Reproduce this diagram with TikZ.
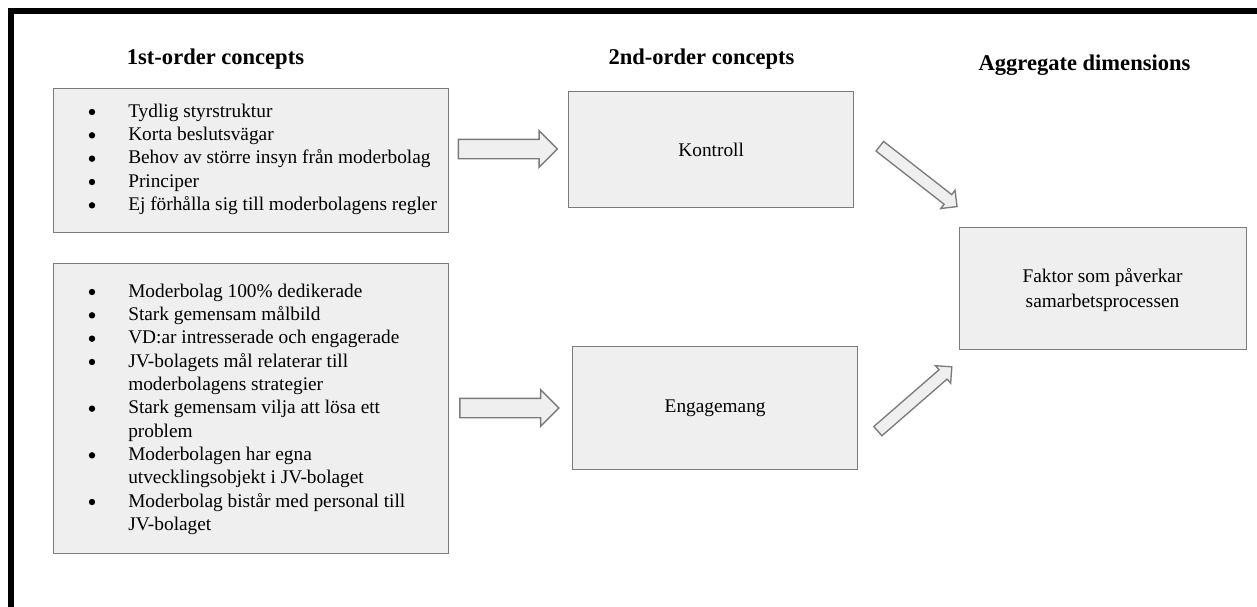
\documentclass[tikz,border=0pt]{standalone}
\usepackage{fontspec}
\setmainfont{Liberation Serif}
\usetikzlibrary{shapes.arrows}
\definecolor{boxfill}{HTML}{EFEFEF}
\definecolor{boxdraw}{HTML}{7B7B7B}
\newcommand\litem[3]{\node[itm] (#1) at (128,#2) {#3};}
\newcommand\lbul[2]{\node[bul] (#1) at (92,#2-5) {};}
\begin{document}
\begin{tikzpicture}[x=0.75pt,y=-0.75pt,
  box/.style={draw=boxdraw, fill=boxfill, line width=1pt, inner sep=0, anchor=north west,
              font=\fontsize{14.5}{17.5}\selectfont, align=center},
  itm/.style={anchor=base west, inner sep=0, font=\fontsize{14.5}{17.5}\selectfont},
  bul/.style={circle, fill=black, inner sep=0, minimum size=4.8pt},
  title/.style={anchor=base, inner sep=0, font=\fontsize{16.9}{20}\selectfont\bfseries},
  harrow/.style={single arrow, draw=boxdraw, fill=boxfill, line width=1pt, inner sep=0,
                 inner ysep=6.75pt, single arrow head extend=6.4pt, minimum height=74.25pt,
                 single arrow tip angle=90},
  darrow/.style={single arrow, draw=boxdraw, fill=boxfill, line width=1pt, inner sep=0,
                 inner ysep=4.1pt, single arrow head extend=4.1pt, minimum height=73.5pt,
                 single arrow tip angle=90}]
\useasboundingbox (0,0) rectangle (1257,607);
\fill[white] (0,0) rectangle (1257,607);
% frame lines (top and left)
\fill[black] (8,8) rectangle (1257,14);
\fill[black] (8,8) rectangle (14,607);

% titles
\node[title] (t1) at (215.5,64) {1st-order concepts};
\node[title] (t2) at (701.5,64) {2nd-order concepts};
\node[title] (t3) at (1084.5,70) {Aggregate dimensions};

% first-order boxes
\node[box, minimum width=296.25pt, minimum height=108pt] (f1) at (53,88) {};
\node[box, minimum width=296.25pt, minimum height=217.5pt] (f2) at (53,263) {};

\lbul{a1b}{117}      \litem{a1}{117}{Tydlig styrstruktur}
\lbul{a2b}{140.33}   \litem{a2}{140.33}{Korta beslutsvägar}
\lbul{a3b}{163.67}   \litem{a3}{163.67}{Behov av större insyn från moderbolag}
\lbul{a4b}{187}      \litem{a4}{187}{Principer}
\lbul{a5b}{210.33}   \litem{a5}{210.33}{Ej förhålla sig till moderbolagens regler}

\lbul{b1b}{297}      \litem{b1}{297}{Moderbolag 100\% dedikerade}
\lbul{b2b}{320.33}   \litem{b2}{320.33}{Stark gemensam målbild}
\lbul{b3b}{343.67}   \litem{b3}{343.67}{VD:ar intresserade och engagerade}
\lbul{b4b}{367}      \litem{b4}{367}{JV-bolagets mål relaterar till}
                     \litem{b5}{390.33}{moderbolagens strategier}
\lbul{b6b}{413.67}   \litem{b6}{413.67}{Stark gemensam vilja att lösa ett}
                     \litem{b7}{437}{problem}
\lbul{b8b}{460.33}   \litem{b8}{460.33}{Moderbolagen har egna}
                     \litem{b9}{483.67}{utvecklingsobjekt i JV-bolaget}
\lbul{b10b}{507}     \litem{b10}{507}{Moderbolag bistår med personal till}
                     \litem{b11}{530.33}{JV-bolaget}

% second-order boxes
\node[box, minimum width=213.75pt, minimum height=87pt] (kon) at (568,91) {Kontroll};
\node[box, minimum width=213.75pt, minimum height=92.25pt] (eng) at (572,346) {Engagemang};

% aggregate box
\node[box, minimum width=215.25pt, minimum height=91.5pt] (fak) at (959,227) {};
\node[inner sep=0, align=center, font=\fontsize{14.5}{18.75}\selectfont] (fakt)
      at (1102.5,290) {Faktor som påverkar\\samarbetsprocessen};

% block arrows
\node[harrow] (ar1) at (503,149) {};
\node[harrow] (ar2) at (504.5,408) {};
\node[darrow, rotate=-38] (ar3) at (916,174.5) {};
\node[darrow, rotate=41] (ar4) at (912.5,401) {};
\end{tikzpicture}
\end{document}
